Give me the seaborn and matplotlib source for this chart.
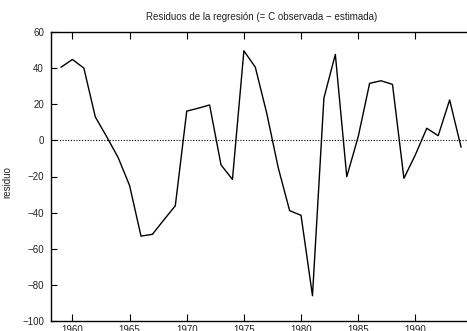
import matplotlib
matplotlib.use("Agg")
import matplotlib.pyplot as plt
import seaborn as sns
import pandas as pd

years = list(range(1959, 1995))
residuo = [40.5, 44.8, 40.0, 13.0, 2.0, -9.5, -25.0, -53.0, -52.0, -44.0,
           -36.2, 16.2, 17.8, 19.6, -13.6, -21.6, 49.6, 40.5, 15.0, -15.0,
           -38.9, -41.5, -86.0, 23.4, 47.6, -20.1, 2.0, 31.6, 33.0, 31.0,
           -21.0, -8.0, 6.7, 2.6, 22.4, -3.8]
yticks = [-100, -80, -60, -40, -20, 0, 20, 40, 60]
xticks = [1960, 1965, 1970, 1975, 1980, 1985, 1990]

sns.set_style("ticks")
plt.rcParams['font.family'] = ['Liberation Sans', 'DejaVu Sans']
plt.rcParams['axes.unicode_minus'] = True

df = pd.DataFrame({"year": years, "residuo": residuo})

fig = plt.figure(figsize=(4.67, 3.31), dpi=100)
ax = fig.add_axes([51/467, 10/331, 421.5/467, 289/331])
ax.axhline(0, color="black", lw=0.8, ls=(0, (1, 1.5)))
sns.lineplot(data=df, x="year", y="residuo", ax=ax, color="black", lw=1.0)

ax.set_xlim(1958.125, 1995)
ax.set_ylim(-100, 60)
ax.set_xticks(xticks)
ax.set_yticks(yticks)
ax.set_yticklabels([str(v).replace('-', '\u2212') for v in yticks])
ax.tick_params(axis='x', direction='in', top=True, bottom=True, length=5, width=0.8,
               labelsize=7, colors='black', labelcolor='#222222', pad=3)
ax.tick_params(axis='y', direction='in', left=True, right=True, length=4, width=0.8,
               labelsize=7, colors='black', labelcolor='#222222', pad=5)
for s in ax.spines.values():
    s.set_linewidth(1.0)
    s.set_color('black')
ax.set_xlabel("")
ax.set_ylabel("residuo", fontsize=7, color='#222222')
ax.yaxis.set_label_coords(-39/421.5, 0.48)
ax.set_title("Residuos de la regresión (= C observada \u2212 estimada)", fontsize=7,
             pad=9, color='#222222')

fig.savefig("out.png", dpi=100)
